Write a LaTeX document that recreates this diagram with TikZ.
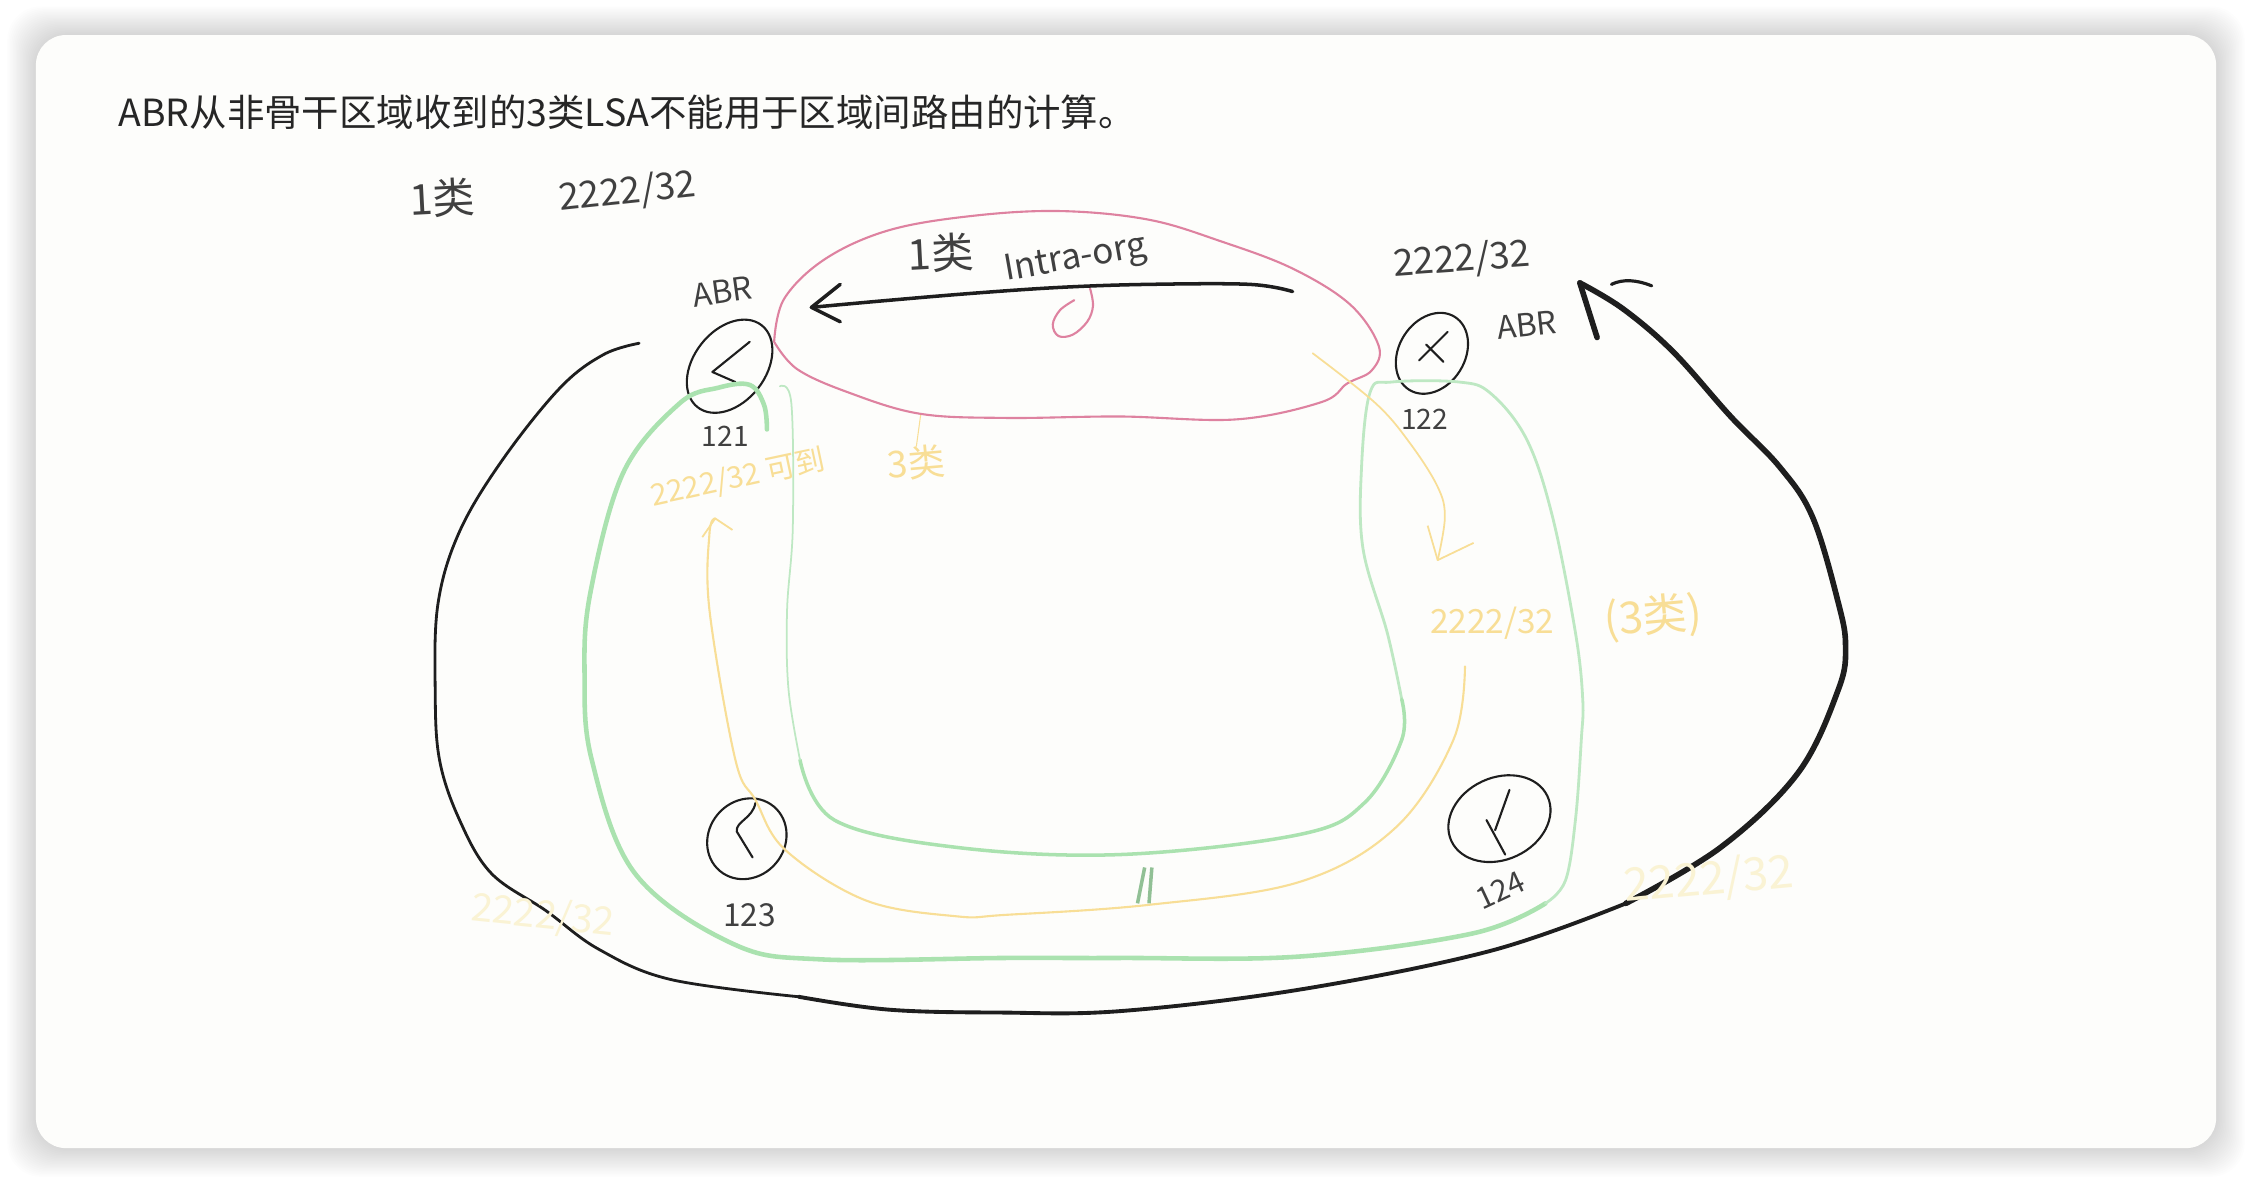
\documentclass[tikz,border=0pt]{standalone}
\usepackage{fontspec}
\usepackage{tikz}
\usetikzlibrary{shapes.geometric,arrows.meta}
\newfontfamily\cjk{Noto Sans CJK SC}
\definecolor{card_white}{RGB}{253,253,251}
\definecolor{pen_black}{RGB}{30,30,30}
\definecolor{pen_pink}{RGB}{222,130,160}
\definecolor{pen_green}{RGB}{170,226,175}
\definecolor{pen_thin}{RGB}{190,232,195}
\definecolor{pen_yellow}{RGB}{248,222,150}
\definecolor{pen_faint}{RGB}{250,243,212}
\tikzset{
	router/.style={ellipse,draw=pen_black,line width=.6pt,inner sep=0pt},
	hand/.style={text=pen_black!85,inner sep=0pt},
	handy/.style={hand,text=pen_yellow},
	handf/.style={hand,text=pen_faint},
	stroke/.style={pen_black,line width=.6pt,line cap=round,line join=round},
	curve/.style={smooth,tension=.6,line cap=round,line join=round}
}
\begin{document}
\begin{tikzpicture}[x=0.14362mm,y=-0.14362mm]
	\useasboundingbox (0,0) rectangle (1568,824.4);
	% card with its soft shadow
	\foreach \s in {1,...,20}
		\fill[black,opacity=.008,rounded corners=3.4mm] (25-\s,24.4-\s) rectangle (1543+\s,799.4+\s);
	\fill[card_white,rounded corners=3mm] (25,24.4) rectangle (1543,799.4);

	\node[font=\cjk\fontsize{10.65}{10.65}\selectfont,text=black!85,anchor=west,inner sep=0pt] (title) at (82,78) {ABR从非骨干区域收到的3类LSA不能用于区域间路由的计算。};

	% routers
	\node[router,minimum width=10.4mm,minimum height=7.2mm,rotate=52] (r121) at (508,255) {};
	\node[router,minimum width=8.6mm,minimum height=6.6mm,rotate=58] (r122) at (997,246) {};
	\node[router,minimum width=8.4mm,minimum height=7.6mm,rotate=50] (r123) at (520,584) {};
	\node[router,minimum width=10.6mm,minimum height=8.2mm,rotate=25] (r124) at (1044,570) {};
	\draw[stroke] (522,238) -- (496,259) -- (512,266);
	\draw[stroke] (1008,231) -- (988,251) (993,240) -- (1005,252);
	\draw[stroke] (526,559) .. controls (524,570) and (512,572) .. (513,579) -- (524,597);
	\draw[stroke] (1051,550) -- (1041,578) (1035,571) -- (1048,595);

	% pink area and its zero
	\coordinate (pink_join) at (539,238);
	\draw[pen_pink,line width=.6pt,curve] plot coordinates {(pink_join) (546,208) (575,180) (620,160) (680,150) (740,147) (800,153) (850,168) (900,187) (940,212) (960,241) (955,258) (938,267) (920,280) (861,292) (780,290) (700,291) (640,288) (590,273) (555,257) (pink_join)};
	\draw[pen_pink,line width=.6pt,curve] plot coordinates {(759,201) (761,213) (757,224) (747,233) (737,234) (733,226) (738,216) (748,209)};

	% green area
	\draw[pen_green,line width=1.3pt,curve] plot coordinates {(534,299) (532,282) (522,268) (500,270) (473,281) (434,329) (411,413) (407,470) (412,529) (442,608) (510,657) (572,668) (700,667) (780,667) (905,666) (1025,650) (1076,629)};
	\draw[pen_thin,line width=.8pt,curve] plot coordinates {(1076,629) (1090,613) (1097,570) (1101,515) (1102,487) (1097,441) (1081,360) (1063,306) (1038,274) (1016,266) (969,266) (954,273) (948,325) (949,382) (966,441) (976,487)};
	\draw[pen_green,line width=1pt,curve] plot coordinates {(976,487) (976,515) (950,559) (905,581) (780,595) (666,590) (581,571) (557,529)};
	\draw[pen_thin,line width=.5pt,curve] plot coordinates {(557,529) (549,480) (548,425) (552,367) (551,281) (543,269)};
	\draw[pen_green!85!black,line width=1pt] (792,629) -- (797,604) (800,629) -- (802,604);

	% arrows in yellow
	\coordinate (yellow_from) at (914,246);
	\coordinate (yellow_to) at (1001,390);
	\coordinate (back_from) at (1020,464);
	\coordinate (back_to) at (498,361);
	\draw[pen_yellow,line width=.5pt,curve] plot coordinates {(yellow_from) (958,281) (982,309) (1001,339) (1006,360) (yellow_to)};
	\draw[pen_yellow,line width=.5pt,line join=round] (994,366) -- (yellow_to) -- (1026,378);
	\draw[pen_yellow,line width=.6pt,curve] plot coordinates {(back_from) (1012,515) (972,576) (905,614) (800,630) (700,637) (666,638) (603,627) (547,592) (526,557) (512,529) (494,425) (494,371) (back_to)};
	\draw[pen_yellow,line width=.5pt,line join=round] (489,374) -- (back_to) -- (510,369);
	\draw[pen_yellow,line width=.3pt] (641,289) -- (638,311);

	% big black loop, the pen gets heavier on the way round
	\coordinate (loop_from) at (445,239);
	\coordinate (loop_to) at (1100,197);
	\draw[pen_black,line width=.8pt,curve] plot coordinates {(loop_from) (420,247) (390,270) (350,320) (320,370) (305,420) (303,480) (306,529) (320,571) (342,608) (380,634) (417,661) (467,682) (556,694)};
	\draw[pen_black,line width=1.1pt,curve] plot coordinates {(556,694) (619,703) (696,705) (780,704) (905,689) (1038,662) (1132,629)};
	\draw[pen_black,line width=1.6pt,curve] plot coordinates {(1132,629) (1198,590) (1252,538) (1280,480) (1285,450) (1280,420) (1262,360) (1239,325) (1205,290) (1165,245) (1130,215) (loop_to)};
	\draw[pen_black,line width=1.6pt,line cap=round] (loop_to) -- (1112,235);
	\draw[pen_black,line width=.9pt,line cap=round] (1122,198) .. controls (1130,194) and (1140,195) .. (1150,199);

	% arrow through the pink area
	\coordinate (lsa_from) at (900,203);
	\coordinate (lsa_to) at (565,214);
	\draw[pen_black,line width=1pt,curve] plot coordinates {(lsa_from) (870,198) (800,198) (740,200) (680,204) (620,209) (lsa_to)};
	\draw[pen_black,line width=1pt,line cap=round,line join=round] (585,198) -- (lsa_to) -- (585,224);

	% labels
	\node[hand,font=\cjk\fontsize{12}{12}\selectfont,rotate=3] (one_a) at (308,138) {1类};
	\node[hand,rotate=6,font=\cjk\fontsize{10.5}{10.5}\selectfont] (addr_a) at (437,134) {2222/32};
	\node[hand,rotate=8,font=\cjk\fontsize{9}{9}\selectfont] (abr_a) at (503,203) {ABR};
	\node[hand,font=\cjk\fontsize{8}{8}\selectfont] (lab121) at (505,304) {121};
	\node[hand,font=\cjk\fontsize{12}{12}\selectfont,rotate=3] (one_b) at (655,176) {1类};
	\node[hand,rotate=10,font=\cjk\fontsize{10}{10}\selectfont] (intra) at (749,181) {Intra-org};
	\node[hand,rotate=4,font=\cjk\fontsize{10.5}{10.5}\selectfont] (addr_b) at (1018,181) {2222/32};
	\node[hand,rotate=6,font=\cjk\fontsize{9}{9}\selectfont] (abr_b) at (1063,226) {ABR};
	\node[hand,font=\cjk\fontsize{8}{8}\selectfont] (lab122) at (992,292) {122};
	\node[hand,font=\cjk\fontsize{9}{9}\selectfont] (lab123) at (522,637) {123};
	\node[hand,rotate=25,font=\cjk\fontsize{8.5}{8.5}\selectfont] (lab124) at (1045,620) {124};

	\node[handy,rotate=12,font=\cjk\fontsize{8.5}{8.5}\selectfont] (yellow_a) at (514,333) {2222/32 可到};
	\node[handy,rotate=5,font=\cjk\fontsize{10.5}{10.5}\selectfont] (yellow_b) at (638,322) {3类};
	\node[handy,font=\cjk\fontsize{9.5}{9.5}\selectfont] (yellow_c) at (1039,434) {2222/32};
	\node[handy,rotate=5,font=\cjk\fontsize{12.5}{12.5}\selectfont] (yellow_d) at (1151,430) {(3类)};
	\node[handf,rotate=-6,font=\cjk\fontsize{11}{11}\selectfont] (faint_a) at (378,638) {2222/32};
	\node[handf,rotate=5,font=\cjk\fontsize{13}{13}\selectfont] (faint_b) at (1190,613) {2222/32};
\end{tikzpicture}
\end{document}
